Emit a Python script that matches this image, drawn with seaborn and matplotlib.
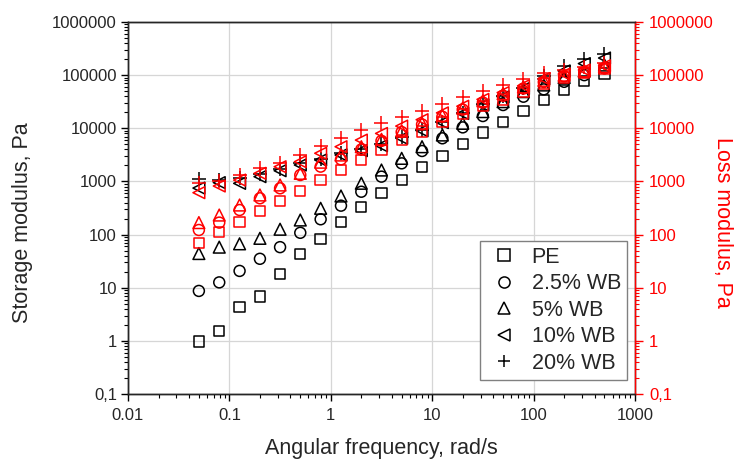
import numpy as np
import pandas as pd
import matplotlib
matplotlib.use("Agg")
import matplotlib.pyplot as plt
from matplotlib.lines import Line2D
from matplotlib.ticker import LogLocator, NullFormatter
import seaborn as sns

# ---------------- data ----------------
freq = [0.05, 0.0794, 0.126, 0.2, 0.316, 0.5, 0.794, 1.26, 2.0, 3.16, 5.0, 7.94,
        12.6, 20.0, 31.6, 50.0, 79.4, 126.0, 200.0, 316.0, 500.0]

series_names = ["PE", "2.5% WB", "5% WB", "10% WB", "20% WB"]

# storage modulus (left axis, black)
gp_pe = [0.97, 1.55, 4.3, 6.8, 18, 43, 82, 172, 335, 614, 1064, 1846, 3050, 5070,
         8280, 13300, 21400, 34100, 52000, 77000, 108000]
gp_25 = [8.7, 12.6, 20.7, 35, 58, 108, 194, 350, 640, 1230, 2190, 3740, 6480, 10400,
         17000, 27400, 39300, 54000, 75000, 100000, 135000]
gp_5 = [44, 58, 67, 85, 126, 188, 312, 532, 923, 1640, 2720, 4500, 7480, 12400,
        20600, 31700, 48900, 65300, 90000, 120000, 155000]
gp_10 = [750, 950, 920, 1230, 1590, 2040, 2530, 3150, 3800, 4700, 6500, 9000, 12800,
         19000, 27500, 39000, 56000, 85000, 120000, 165000, 210000]
gp_20 = [1100, 1060, 1150, 1400, 1700, 2200, 2700, 3400, 4000, 5000, 6900, 9400,
         13300, 19700, 28600, 40500, 58000, 95000, 150000, 200000, 250000]

# loss modulus (right axis, red)
gpp_pe = [70, 113, 175, 281, 434, 670, 1060, 1650, 2530, 3900, 6030, 8650, 13300,
          18600, 26200, 35000, 48900, 70000, 90000, 110000, 130000]
gpp_25 = [122, 168, 290, 482, 743, 1320, 1900, 2600, 4000, 5800, 8500, 11800, 16500,
          22500, 30500, 41000, 56000, 74000, 95000, 115000, 135000]
gpp_5 = [168, 233, 360, 556, 857, 1420, 2300, 3140, 4500, 6200, 9000, 12500, 17500,
         24000, 33000, 45000, 60000, 80000, 100000, 120000, 145000]
gpp_10 = [614, 820, 1060, 1420, 1890, 2350, 3390, 4500, 6000, 8000, 11000, 14500,
          19500, 26000, 35000, 47000, 63000, 85000, 105000, 125000, 150000]
gpp_20 = [920, 1000, 1320, 1770, 2250, 3140, 4650, 6480, 9300, 12400, 16100, 21400,
          28600, 38300, 51000, 65300, 83500, 108000, 125000, 145000, 170000]

x_ticks = [0.01, 0.1, 1, 10, 100, 1000]
x_labels = ["0.01", "0.1", "1", "10", "100", "1000"]
y_ticks = [0.1, 1, 10, 100, 1000, 10000, 100000, 1000000]
y_labels = ["0,1", "1", "10", "100", "1000", "10000", "100000", "1000000"]

storage = [gp_pe, gp_25, gp_5, gp_10, gp_20]
loss = [gpp_pe, gpp_25, gpp_5, gpp_10, gpp_20]

# ---------------- style ----------------
sns.set_style("ticks")
plt.rcParams['font.family'] = ['Liberation Sans', 'DejaVu Sans']

markers = ['s', 'o', '^', '<', '+']
sizes = [55, 62, 72, 72, 90]

fig = plt.figure(figsize=(7.44, 4.69), dpi=100)
ax = fig.add_axes([128 / 744, 1 - 394 / 469, 507 / 744, 372 / 469])
ax2 = ax.twinx()


def draw(axis, vals, m, s, col):
    df = pd.DataFrame({"freq": freq, "G": vals})
    if m == '+':
        sns.scatterplot(data=df, x="freq", y="G", marker=m, s=s, color=col,
                        linewidth=1.1, ax=axis, legend=False, zorder=3)
    else:
        sns.scatterplot(data=df, x="freq", y="G", marker=m, s=s, facecolor='none',
                        edgecolor=col, linewidth=1.1, ax=axis, legend=False, zorder=3)


for vals, m, s in zip(storage, markers, sizes):
    draw(ax, vals, m, s, 'black')
for vals, m, s in zip(loss, markers, sizes):
    draw(ax2, vals, m, s, 'red')

for a in (ax, ax2):
    a.set_xscale('log')
    a.set_yscale('log')
    a.set_xlim(0.01, 1000)
    a.set_ylim(0.1, 1e6)
    a.set_yticks(y_ticks, y_labels)
    a.yaxis.set_minor_locator(LogLocator(base=10, subs=np.arange(2, 10) * 1.0, numticks=100))
    a.yaxis.set_minor_formatter(NullFormatter())

ax.set_xticks(x_ticks, x_labels)
ax.xaxis.set_minor_locator(LogLocator(base=10, subs=np.arange(2, 10) * 1.0, numticks=100))
ax.xaxis.set_minor_formatter(NullFormatter())

ax.grid(True, which='major', color='#d6d6d6', linewidth=0.9)
ax.set_axisbelow(True)

for sp in ax.spines.values():
    sp.set_color('black')
    sp.set_linewidth(1.0)
for sp in ax2.spines.values():
    sp.set_linewidth(1.0)
ax2.spines['right'].set_color('red')

ax.tick_params(axis='both', which='major', direction='out', length=5, width=1,
               labelsize=12, color='black', pad=3)
ax.tick_params(axis='both', which='minor', direction='out', length=3, width=0.8,
               color='black')
ax.tick_params(axis='x', pad=5)
ax2.tick_params(axis='y', which='major', direction='out', length=6, width=1,
                labelsize=12, color='red', labelcolor='red', pad=4)
ax2.tick_params(axis='y', which='minor', direction='out', length=3, width=0.8,
                color='red')

ax.set_xlabel("Angular frequency, rad/s", fontsize=15.5)
ax.xaxis.set_label_coords(0.5, (394 - 438) / 372)
ax.set_ylabel("Storage modulus, Pa", fontsize=15.5)
ax.yaxis.set_label_coords((33 - 128) / 507, (394 - 223) / 372)
ax2.set_ylabel("Loss modulus, Pa", fontsize=15.5, color='red', rotation=270, va='bottom')
ax2.yaxis.set_label_coords((712 - 128) / 507, (394 - 222) / 372)

handles = []
for m in markers:
    if m == '+':
        handles.append(Line2D([], [], marker=m, ls='none', color='black', ms=9, mew=1.1))
    else:
        handles.append(Line2D([], [], marker=m, ls='none', mfc='none', mec='black',
                              ms=8, mew=1.1))
leg = ax2.legend(handles, series_names, loc='lower right',
                 bbox_to_anchor=((627 - 128) / 507, (394 - 380) / 372),
                 borderaxespad=0, fontsize=15.5, frameon=True, fancybox=False,
                 edgecolor='#808080', framealpha=1, borderpad=0.28,
                 handlelength=1.6, handletextpad=0.5, labelspacing=0.26)
leg.get_frame().set_linewidth(1.0)

fig.savefig("out.png", dpi=100)
